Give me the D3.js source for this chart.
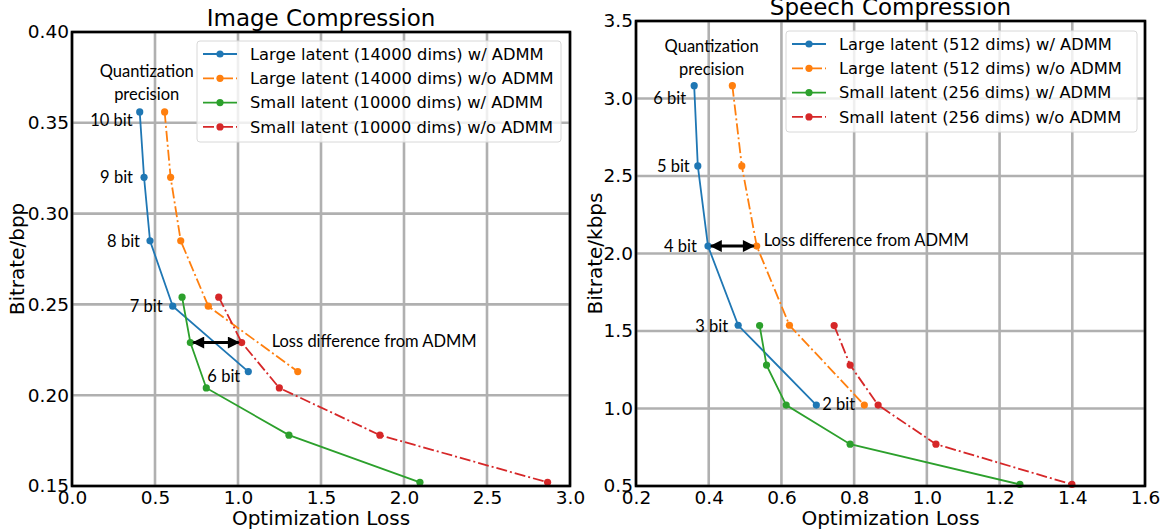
<!DOCTYPE html>
<html><head><meta charset="utf-8">
<script src="https://cdn.jsdelivr.net/npm/d3@7"></script>
<style>body{margin:0;background:#fff}svg{display:block}</style>
</head><body>
<script>
// ---------- data ----------
const imageBitLabels = ["10 bit", "9 bit", "8 bit", "7 bit", "6 bit"];
const imageBitrateLarge = [0.356, 0.320, 0.285, 0.249, 0.213];
const imageLossLargeADMM = [0.408, 0.434, 0.470, 0.607, 1.062];
const imageLossLargeNoADMM = [0.558, 0.594, 0.655, 0.821, 1.360];
const imageBitrateSmall = [0.254, 0.229, 0.204, 0.178, 0.152];
const imageLossSmallADMM = [0.663, 0.713, 0.809, 1.307, 2.096];
const imageLossSmallNoADMM = [0.884, 1.022, 1.249, 1.855, 2.865];
const imageSeriesNames = ["Large latent (14000 dims) w/ ADMM", "Large latent (14000 dims) w/o ADMM",
  "Small latent (10000 dims) w/ ADMM", "Small latent (10000 dims) w/o ADMM"];
const imageXTicks = [0.0, 0.5, 1.0, 1.5, 2.0, 2.5, 3.0];
const imageYTicks = [0.15, 0.20, 0.25, 0.30, 0.35, 0.40];

const speechBitLabels = ["6 bit", "5 bit", "4 bit", "3 bit", "2 bit"];
const speechBitrateLarge = [3.083, 2.565, 2.048, 1.537, 1.022];
const speechLossLargeADMM = [0.360, 0.370, 0.398, 0.481, 0.696];
const speechLossLargeNoADMM = [0.465, 0.491, 0.532, 0.622, 0.828];
const speechBitrateSmall = [1.535, 1.280, 1.022, 0.770, 0.510];
const speechLossSmallADMM = [0.540, 0.559, 0.613, 0.789, 1.256];
const speechLossSmallNoADMM = [0.745, 0.789, 0.866, 1.025, 1.399];
const speechSeriesNames = ["Large latent (512 dims) w/ ADMM", "Large latent (512 dims) w/o ADMM",
  "Small latent (256 dims) w/ ADMM", "Small latent (256 dims) w/o ADMM"];
const speechXTicks = [0.2, 0.4, 0.6, 0.8, 1.0, 1.2, 1.4, 1.6];
const speechYTicks = [0.5, 1.0, 1.5, 2.0, 2.5, 3.0, 3.5];

// ---------- style ----------
const colors = ["#1f77b4", "#ff7f0e", "#2ca02c", "#d62728"];
const dashes = [null, "11,3,2,3", null, "11,3,2,3"];
const tickFont = "DejaVu Sans, sans-serif";
const annFont = "Lato, 'Open Sans', sans-serif";

const W = 1168, H = 531;
const svg = d3.select("body").append("svg").attr("width", W).attr("height", H);
svg.append("rect").attr("width", W).attr("height", H).attr("fill", "#fff");

const defs = svg.append("defs");
defs.append("marker").attr("id", "ah").attr("viewBox", "0 0 10 10")
  .attr("refX", 9).attr("refY", 5).attr("markerWidth", 5).attr("markerHeight", 4)
  .attr("markerUnits", "strokeWidth").attr("orient", "auto-start-reverse")
  .append("path").attr("d", "M0,0 L10,5 L0,10 Z").attr("fill", "#000");

function panel(cfg) {
  const x = d3.scaleLinear().domain(cfg.xDomain).range([cfg.left, cfg.right]);
  const y = d3.scaleLinear().domain(cfg.yDomain).range([cfg.bottom, cfg.top]);
  const g = svg.append("g");

  // grid
  g.selectAll(".gx").data(cfg.xTicks).enter().append("line")
    .attr("x1", d => x(d)).attr("x2", d => x(d)).attr("y1", cfg.top).attr("y2", cfg.bottom)
    .attr("stroke", "#b0b0b0").attr("stroke-width", 2.6);
  g.selectAll(".gy").data(cfg.yTicks).enter().append("line")
    .attr("y1", d => y(d)).attr("y2", d => y(d)).attr("x1", cfg.left).attr("x2", cfg.right)
    .attr("stroke", "#b0b0b0").attr("stroke-width", 2.6);

  // series
  cfg.series.forEach((s, i) => {
    const pts = s.x.map((v, k) => [v, s.y[k]]);
    g.append("path").datum(pts)
      .attr("d", d3.line().x(d => x(d[0])).y(d => y(d[1])))
      .attr("fill", "none").attr("stroke", colors[i]).attr("stroke-width", 1.8)
      .attr("stroke-dasharray", dashes[i]);
    g.selectAll(null).data(pts).enter().append("circle")
      .attr("cx", d => x(d[0])).attr("cy", d => y(d[1])).attr("r", 3.6).attr("fill", colors[i]);
  });

  // frame
  g.append("rect").attr("x", cfg.left).attr("y", cfg.top)
    .attr("width", cfg.right - cfg.left).attr("height", cfg.bottom - cfg.top)
    .attr("fill", "none").attr("stroke", "#000").attr("stroke-width", 2.6);

  // axes (labels only, no tick marks)
  const xa = g.append("g").attr("transform", `translate(0,${cfg.bottom})`)
    .call(d3.axisBottom(x).tickValues(cfg.xTicks).tickFormat(d3.format(".1f")).tickSize(0).tickPadding(5));
  const ya = g.append("g").attr("transform", `translate(${cfg.left},0)`)
    .call(d3.axisLeft(y).tickValues(cfg.yTicks).tickFormat(d3.format(cfg.yFmt)).tickSize(0).tickPadding(3));
  [xa, ya].forEach(a => {
    a.select(".domain").remove();
    a.selectAll("text").attr("font-family", tickFont).attr("font-size", 18.5).attr("fill", "#000");
  });

  // titles
  const cx = (cfg.left + cfg.right) / 2;
  g.append("text").attr("x", cx).attr("y", cfg.top - 6).attr("text-anchor", "middle")
    .attr("font-family", tickFont).attr("font-size", 23).text(cfg.title);
  g.append("text").attr("x", cx).attr("y", 525).attr("text-anchor", "middle")
    .attr("font-family", tickFont).attr("font-size", 20).text("Optimization Loss");
  g.append("text").attr("transform", `translate(${cfg.ylabX},${(cfg.top + cfg.bottom) / 2}) rotate(-90)`)
    .attr("text-anchor", "middle").attr("dy", "0.35em")
    .attr("font-family", tickFont).attr("font-size", 20).text(cfg.ylabel);

  // annotations
  const qa = cfg.quant;
  const qt = g.append("text").attr("text-anchor", "middle").attr("font-family", annFont).attr("font-size", 16.5);
  qt.append("tspan").attr("x", x(qa.x)).attr("y", y(qa.y)).text("Quantization");
  qt.append("tspan").attr("x", x(qa.x)).attr("dy", 22.5).text("precision");

  const base = cfg.series[0];
  cfg.bitLabels.forEach((t, k) => {
    const o = cfg.bitOffsets[k];
    g.append("text").attr("x", x(base.x[k]) + o[0]).attr("y", y(base.y[k]) + o[1])
      .attr("dy", "0.35em").attr("text-anchor", o[2])
      .attr("font-family", annFont).attr("font-size", 16.5).text(t);
  });

  const a = cfg.arrow;
  g.append("line").attr("x1", x(a.x1) + 3).attr("x2", x(a.x2) - 3).attr("y1", y(a.y)).attr("y2", y(a.y))
    .attr("stroke", "#000").attr("stroke-width", 3)
    .attr("marker-start", "url(#ah)").attr("marker-end", "url(#ah)");
  g.append("text").attr("x", x(a.x2) + a.tdx).attr("y", y(a.y) + a.tdy).attr("dy", "0.35em")
    .attr("font-family", annFont).attr("font-size", 16.5).text("Loss difference from ADMM");

  // legend
  const L = cfg.legend;
  const lg = g.append("g");
  lg.append("rect").attr("x", L.x).attr("y", L.y).attr("width", L.w).attr("height", L.h)
    .attr("rx", 3).attr("fill", "#fff").attr("fill-opacity", 0.8).attr("stroke", "#d8d8d8").attr("stroke-width", 1);
  cfg.names.forEach((n, i) => {
    const ry = L.y + 13 + i * 24.3;
    lg.append("line").attr("x1", L.x + 6).attr("x2", L.x + 40).attr("y1", ry).attr("y2", ry)
      .attr("stroke", colors[i]).attr("stroke-width", 1.8).attr("stroke-dasharray", dashes[i]);
    lg.append("circle").attr("cx", L.x + 23).attr("cy", ry).attr("r", 3.6).attr("fill", colors[i]);
    lg.append("text").attr("x", L.x + 53).attr("y", ry).attr("dy", "0.35em")
      .attr("font-family", tickFont).attr("font-size", 16.3).text(n);
  });
}

panel({
  left: 72, right: 570, top: 32, bottom: 486,
  xDomain: [0, 3], yDomain: [0.15, 0.40], xTicks: imageXTicks, yTicks: imageYTicks, yFmt: ".2f",
  title: "Image Compression", ylabel: "Bitrate/bpp", ylabX: 17,
  series: [
    {x: imageLossLargeADMM, y: imageBitrateLarge},
    {x: imageLossLargeNoADMM, y: imageBitrateLarge},
    {x: imageLossSmallADMM, y: imageBitrateSmall},
    {x: imageLossSmallNoADMM, y: imageBitrateSmall}],
  names: imageSeriesNames,
  bitLabels: imageBitLabels,
  bitOffsets: [[-7, 8, "end"], [-11, 0, "end"], [-10, 0, "end"], [-10, 0, "end"], [-8, 5, "end"]],
  quant: {x: 0.45, y: 0.375},
  arrow: {x1: imageLossSmallADMM[1], x2: imageLossSmallNoADMM[1], y: imageBitrateSmall[1], tdx: 30, tdy: -1},
  legend: {x: 197, y: 41, w: 364, h: 101}
});

panel({
  left: 636, right: 1145, top: 21, bottom: 486,
  xDomain: [0.2, 1.6], yDomain: [0.5, 3.5], xTicks: speechXTicks, yTicks: speechYTicks, yFmt: ".1f",
  title: "Speech Compression", ylabel: "Bitrate/kbps", ylabX: 595,
  series: [
    {x: speechLossLargeADMM, y: speechBitrateLarge},
    {x: speechLossLargeNoADMM, y: speechBitrateLarge},
    {x: speechLossSmallADMM, y: speechBitrateSmall},
    {x: speechLossSmallNoADMM, y: speechBitrateSmall}],
  names: speechSeriesNames,
  bitLabels: speechBitLabels,
  bitOffsets: [[-8, 13, "end"], [-8, 0, "end"], [-11, 0, "end"], [-10, 1, "end"], [6, -1, "start"]],
  quant: {x: 0.408, y: 3.30},
  arrow: {x1: speechLossLargeADMM[2], x2: speechLossLargeNoADMM[2], y: speechBitrateLarge[2], tdx: 7, tdy: -6},
  legend: {x: 786, y: 31, w: 351, h: 101}
});
</script>
</body></html>
